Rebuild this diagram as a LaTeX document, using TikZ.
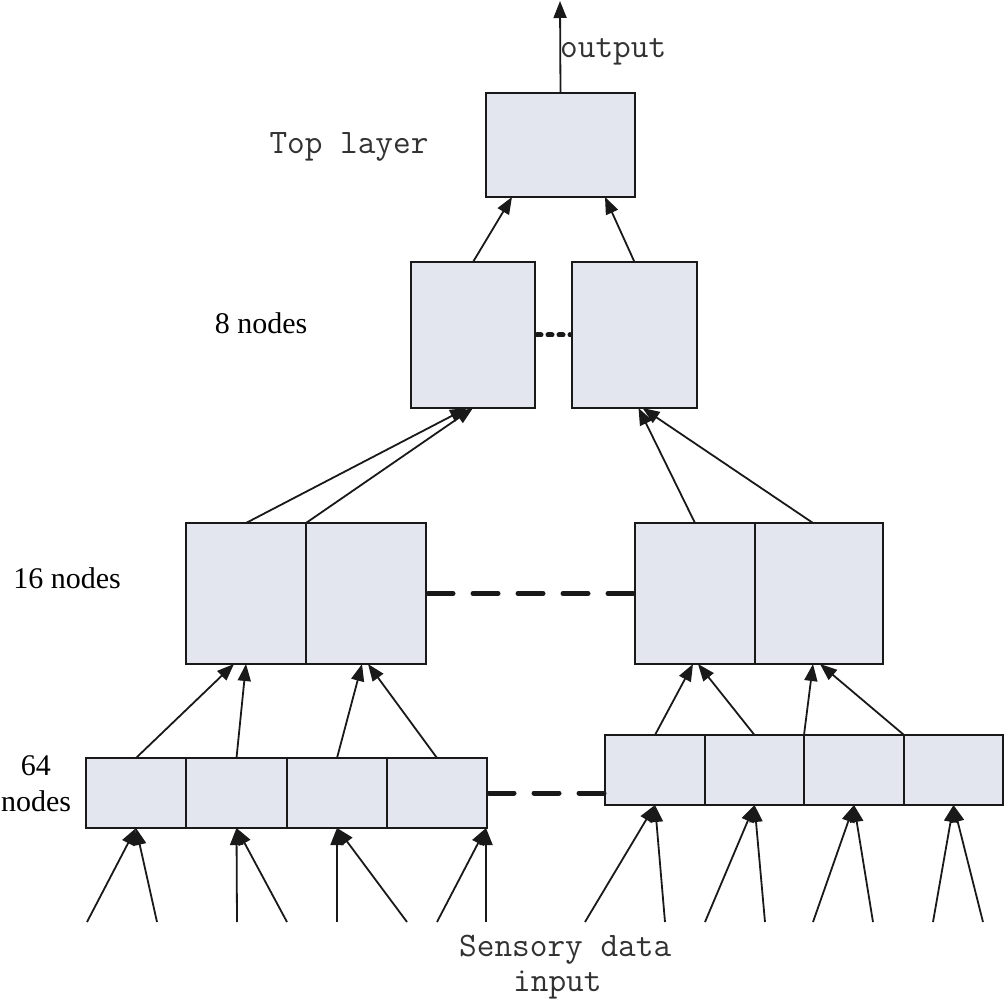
\documentclass[tikz,border=0pt]{standalone}
\usepackage{fontspec}
\setmainfont{Liberation Serif}
\usetikzlibrary{arrows.meta}
\definecolor{boxfill}{RGB}{227,230,239}
\definecolor{textgray}{RGB}{50,50,50}
\begin{document}
\begin{tikzpicture}[x=1pt,y=-1pt,
  box/.style={draw=black!90, fill=boxfill, line width=1.8pt, inner sep=0pt, outer sep=0pt},
  conn/.style={line width=1.8pt, black!90, -{Triangle[length=17pt,width=13pt]}},
  gapline/.style={line width=5pt, black!90, line cap=round, dash pattern=on 25pt off 20pt},
  dotline/.style={line width=5pt, black!90, line cap=round, dash pattern=on 4pt off 7pt},
  monolabel/.style={font=\fontsize{34.3}{35}\selectfont\ttfamily, text=textgray, inner sep=0pt},
  seriflabel/.style={font=\fontsize{30}{36}\selectfont, text=black, inner sep=0pt}]
\useasboundingbox (0,0) rectangle (1005,1000);

% boxes
\node[box, minimum width=149pt, minimum height=104pt] (top) at (560.5,145) {};
\node[box, minimum width=124pt, minimum height=146pt] (e1) at (473,335) {};
\node[box, minimum width=125pt, minimum height=146pt] (e2) at (634.5,335) {};
\node[box, minimum width=120pt, minimum height=141pt] (s1) at (246,593.5) {};
\node[box, minimum width=120pt, minimum height=141pt] (s2) at (366,593.5) {};
\node[box, minimum width=120pt, minimum height=141pt] (s3) at (695,593.5) {};
\node[box, minimum width=128pt, minimum height=141pt] (s4) at (819,593.5) {};
\node[box, minimum width=100pt, minimum height=70pt] (f1) at (136,793) {};
\node[box, minimum width=101pt, minimum height=70pt] (f2) at (236.5,793) {};
\node[box, minimum width=100pt, minimum height=70pt] (f3) at (337,793) {};
\node[box, minimum width=100pt, minimum height=70pt] (f4) at (437,793) {};
\node[box, minimum width=100pt, minimum height=70pt] (g1) at (655,770) {};
\node[box, minimum width=99pt, minimum height=70pt] (g2) at (754.5,770) {};
\node[box, minimum width=100pt, minimum height=70pt] (g3) at (854,770) {};
\node[box, minimum width=99pt, minimum height=70pt] (g4) at (953.5,770) {};

% labels
\node[monolabel, anchor=west] (outlbl) at (560,52) {output};
\node[monolabel] (toplbl) at (349,147) {Top layer};
\node[seriflabel] (l8) at (261,323) {8 nodes};
\node[seriflabel] (l16) at (67,578) {16 nodes};
\node[seriflabel, align=center] (l64) at (36,784) {64\\nodes};
\node[monolabel, align=left, anchor=north west] (sens) at (459,935) {Sensory data\\\hspace*{54pt}input};

% output
\coordinate (outtip) at (560,1);
\draw[conn] (top.north) -- (outtip);

% 8 -> top
\draw[conn] (e1.north) -- ([xshift=26pt]top.south west);
\draw[conn] (e2.north) -- ([xshift=-30pt]top.south east);

% 16 -> 8
\draw[conn] (s1.north) -- ([xshift=-6pt]e1.south);
\draw[conn] (s1.north east) -- (e1.south);
\draw[conn] (s3.north) -- ([xshift=4pt]e2.south);
\draw[conn] ([xshift=-6pt]s4.north) -- ([xshift=8pt]e2.south);

% 64 -> 16
\draw[conn] (f1.north) -- ([xshift=-12pt]s1.south);
\draw[conn] (f2.north) -- (s1.south);
\draw[conn] (f3.north) -- ([xshift=-4pt]s2.south);
\draw[conn] (f4.north) -- ([xshift=2pt]s2.south);
\draw[conn] (g1.north) -- ([xshift=-2pt]s3.south);
\draw[conn] (g2.north) -- ([xshift=3pt]s3.south);
\draw[conn] (g3.north west) -- ([xshift=-6pt]s4.south);
\draw[conn] (g4.north west) -- ([xshift=1pt]s4.south);

% sensory inputs
\foreach \n/\x in {a1/87,a2/157,b1/237,b2/287,c1/337,c2/407,d1/437,d2/486,
                   h1/585,h2/665,i1/705,i2/765,j1/813,j2/873,k1/933,k2/983}
  \coordinate (in\n) at (\x,922);
\draw[conn] (ina1) -- (f1.south);
\draw[conn] (ina2) -- (f1.south);
\draw[conn] (inb1) -- (f2.south);
\draw[conn] (inb2) -- (f2.south);
\draw[conn] (inc1) -- (f3.south);
\draw[conn] (inc2) -- (f3.south);
\draw[conn] (ind1) -- ([xshift=-1pt]f4.south east);
\draw[conn] (ind2) -- ([xshift=-1pt]f4.south east);
\draw[conn] (inh1) -- (g1.south);
\draw[conn] (inh2) -- (g1.south);
\draw[conn] (ini1) -- (g2.south);
\draw[conn] (ini2) -- (g2.south);
\draw[conn] (inj1) -- (g3.south);
\draw[conn] (inj2) -- (g3.south);
\draw[conn] (ink1) -- (g4.south);
\draw[conn] (ink2) -- (g4.south);

% dashed links
\draw[dotline] ([xshift=2pt]e1.east) -- ([xshift=-2pt]e2.west);
\draw[gapline] ([xshift=2pt]s2.east) -- ([xshift=-1pt]s3.west);
\draw[gapline] ([xshift=2pt]f4.east) -- ([xshift=-1pt]f4.east -| g1.west);
\end{tikzpicture}
\end{document}
